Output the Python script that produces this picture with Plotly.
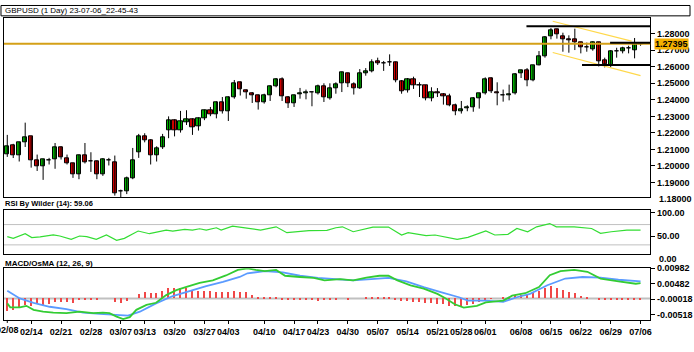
import plotly.graph_objects as go

# ---------------- data ----------------
opens = [1.2069,1.2128,1.2063,1.2143,1.2179,1.2033,1.2000,1.2036,1.2043,1.2113,
         1.2047,1.2015,1.1950,1.2063,1.2028,1.2030,1.1950,1.2037,1.2025,1.1845,
         1.1848,1.1926,1.2083,1.2182,1.2158,1.2063,1.2113,1.2218,
         1.2277,1.2218,1.2266,1.2282,1.2238,1.2286,1.2337,1.2313,1.2385,1.2328,
         1.2417,1.2504,1.2459,1.2441,1.2426,1.2387,1.2426,1.2484,1.2524,1.2417,
         1.2381,1.2436,1.2442,1.2444,1.2441,1.2482,1.2407,
         1.2471,1.2500,1.2560,1.2492,1.2472,1.2560,1.2575,1.2631,1.2623,1.2626,
         1.2625,1.2510,1.2456,1.2522,1.2487,1.2486,1.2411,1.2447,1.2432,1.2420,
         1.2365,1.2328,1.2351,1.2353,1.2411,1.2441,1.2530,1.2447,
         1.2429,1.2430,1.2437,1.2562,1.2581,1.2516,1.2611,1.2661,1.2786,1.2824,
         1.2786,1.2764,1.2766,1.2745,1.2716,1.2705,1.2746,1.2641,1.2611,1.2695,
         1.2691,1.2711,1.2701,1.2736]
highs = [1.2188,1.2134,1.2146,1.2262,1.2179,1.2069,1.2043,1.2049,1.2139,1.2119,
         1.2069,1.2019,1.2069,1.2139,1.2083,1.2033,1.2047,1.2049,1.2063,1.1857,
         1.1936,1.2109,1.2194,1.2198,1.2162,1.2119,1.2194,1.2300,
         1.2282,1.2333,1.2337,1.2288,1.2294,1.2341,1.2357,1.2391,1.2417,1.2421,
         1.2520,1.2510,1.2462,1.2447,1.2431,1.2437,1.2488,1.2532,1.2536,1.2423,
         1.2431,1.2472,1.2462,1.2447,1.2492,1.2500,1.2500,
         1.2506,1.2570,1.2564,1.2506,1.2586,1.2592,1.2645,1.2655,1.2635,1.2675,
         1.2631,1.2520,1.2532,1.2540,1.2506,1.2490,1.2476,1.2471,1.2441,1.2437,
         1.2377,1.2393,1.2367,1.2417,1.2441,1.2536,1.2536,1.2506,
         1.2462,1.2492,1.2562,1.2581,1.2592,1.2611,1.2695,1.2786,1.2834,1.2830,
         1.2806,1.2790,1.2830,1.2751,1.2746,1.2754,1.2751,1.2655,1.2701,1.2715,
         1.2721,1.2727,1.2774,1.2741]
lows = [1.2055,1.2048,1.2027,1.2115,1.1990,1.1970,1.1916,1.2009,1.1983,1.2039,
        1.2009,1.1928,1.1920,1.2015,1.1964,1.1920,1.1940,1.2003,1.1821,1.1805,
        1.1830,1.1920,1.2049,1.2143,1.2009,1.2027,1.2103,1.2168,
        1.2179,1.2202,1.2248,1.2188,1.2214,1.2277,1.2301,1.2288,1.2317,1.2272,
        1.2407,1.2426,1.2407,1.2381,1.2341,1.2377,1.2393,1.2476,1.2393,1.2351,
        1.2357,1.2407,1.2403,1.2361,1.2432,1.2387,1.2401,
        1.2437,1.2447,1.2477,1.2432,1.2466,1.2546,1.2566,1.2611,1.2575,1.2605,
        1.2506,1.2437,1.2444,1.2466,1.2417,1.2397,1.2391,1.2417,1.2371,1.2361,
        1.2307,1.2317,1.2331,1.2328,1.2347,1.2432,1.2441,1.2367,
        1.2389,1.2397,1.2432,1.2532,1.2482,1.2512,1.2608,1.2655,1.2766,1.2770,
        1.2691,1.2685,1.2701,1.2681,1.2691,1.2697,1.2602,1.2596,1.2596,1.2655,
        1.2681,1.2681,1.2651,1.2727]
closes = [1.2119,1.2063,1.2143,1.2173,1.2033,1.2000,1.2039,1.2035,1.2113,1.2055,
          1.2019,1.1948,1.2065,1.2024,1.2027,1.1950,1.2043,1.2036,1.1833,1.1845,
          1.1926,1.2033,1.2182,1.2158,1.2063,1.2107,1.2174,1.2277,
          1.2218,1.2268,1.2282,1.2234,1.2288,1.2337,1.2313,1.2387,1.2328,1.2417,
          1.2500,1.2465,1.2443,1.2426,1.2383,1.2426,1.2484,1.2524,1.2421,1.2377,
          1.2425,1.2437,1.2443,1.2443,1.2484,1.2413,1.2471,
          1.2496,1.2566,1.2500,1.2468,1.2560,1.2575,1.2629,1.2620,1.2623,1.2625,
          1.2516,1.2450,1.2526,1.2486,1.2486,1.2411,1.2443,1.2437,1.2420,1.2367,
          1.2328,1.2345,1.2352,1.2411,1.2437,1.2526,1.2450,1.2437,
          1.2429,1.2432,1.2556,1.2576,1.2516,1.2608,1.2661,1.2780,1.2820,1.2794,
          1.2764,1.2763,1.2746,1.2715,1.2715,1.2746,1.2635,1.2617,1.2695,1.2694,
          1.2711,1.2710,1.2736,1.27395]

date_ticks = [0, 4, 9, 14, 19, 23, 28, 33, 37, 43, 48, 52, 57, 62, 67, 72, 76, 80, 86, 91, 96, 101, 106]
date_labels = ["02/08", "02/14", "02/21", "02/28", "03/07", "03/13", "03/20", "03/27", "04/03",
               "04/10", "04/17", "04/23", "04/30", "05/07", "05/14", "05/21", "05/28", "06/01",
               "06/08", "06/15", "06/22", "06/29", "07/06"]

price_ticks = [1.19, 1.20, 1.21, 1.22, 1.23, 1.24, 1.25, 1.26, 1.27, 1.28]
price_bottom_label = 1.18

rsi_x = [0, 1.0, 3.0, 4.1, 5.5, 7.7, 8.8, 10.7, 12.1, 13.3, 14.9, 16.6, 18.3, 19.6, 21.9, 23.8,
         26.6, 27.7, 29.7, 31, 32.2, 33.3, 35, 35.8, 37.7, 38.8, 40.2, 42.4, 45, 46.8, 50.5, 53.5,
         55, 56.1, 57.9, 61.2, 63.8, 66, 67.1, 70.1, 71.6, 75.3, 77.1, 80.1, 81.6, 83.8, 85.3,
         87.1, 88.6, 90.8, 91.9, 94.9, 97.8, 99.3, 101.1, 103.7, 106]
rsi_v = [46.2, 42.9, 52.0, 44.3, 45.6, 49.5, 47.5, 41.0, 47.5, 46.2, 41.0, 49.5, 39.0, 42.9, 57.3,
         52.0, 59.2, 57.3, 60.4, 59.2, 61.7, 59.2, 63.7, 59.2, 67.0, 65.0, 62.3, 59.2, 65.6, 54.0,
         57.9, 58.5, 63.7, 65.6, 55.9, 65.0, 65.0, 49.5, 54.0, 48.2, 49.5, 41.0, 44.9, 57.3, 49.5,
         50.7, 62.3, 55.9, 65.6, 72.0, 65.6, 65.6, 62.3, 52.6, 55.9, 59.2, 59.06]
rsi_levels = [70, 30]

macd_x = [0, 0.5, 2.1, 3.2, 4.4, 6.0, 7.7, 9.9, 12.1, 14.4, 16.0, 17.1, 18.3, 19.4, 20.5, 21.6,
          23.3, 24.9, 26.6, 28.3, 30.0, 32.2, 34.4, 36.6, 38.6, 40.2, 41.6, 43.1, 45.0, 46.5, 49.0,
          51.3, 53.1, 55.7, 57.9, 60.1, 62.3, 63.8, 65.3, 67.5, 69.7, 72.0, 73.4, 74.9, 76.4, 78.6,
          80.1, 83.0, 84.5, 86.7, 89.0, 90.8, 92.6, 94.9, 97.1, 99.3, 102.3, 105.2, 106]
macd_v = [-0.0016, -0.0029, -0.0029, -0.0024, -0.0037, -0.0043, -0.0046, -0.0048, -0.0043, -0.0048,
          -0.0046, -0.0048, -0.0059, -0.0067, -0.0061, -0.0037, -0.0021, -0.0014, 0.0011, 0.0027,
          0.0038, 0.0051, 0.0059, 0.0075, 0.0093, 0.0098, 0.0093, 0.0089, 0.0093, 0.0074, 0.0070,
          0.0067, 0.0059, 0.0063, 0.0059, 0.0068, 0.0074, 0.0074, 0.0059, 0.0043, 0.0032, 0.0015,
          0.0000, -0.0019, -0.0030, -0.0024, -0.0013, -0.0007, 0.0009, 0.0017, 0.0037, 0.0076,
          0.0089, 0.0093, 0.0087, 0.0065, 0.0056, 0.0048, 0.0050]
signal_x = [0, 2.1, 4.4, 7.1, 9.9, 12.7, 15.5, 18.3, 20.2, 22.2, 24.9, 27.7, 30.5, 33.3, 36.1, 38.9,
            40.2, 43.1, 46.1, 49.0, 52.0, 55.0, 57.9, 60.9, 63.8, 66.8, 69.7, 72.7, 75.6, 77.1, 80.1,
            83.0, 85.3, 87.5, 90.4, 93.4, 96.3, 99.3, 102.3, 106]
signal_v = [0.0025, 0.0000, -0.0014, -0.0027, -0.0035, -0.0046, -0.0050, -0.0053, -0.0056, -0.0043,
            -0.0016, 0.0008, 0.0025, 0.0040, 0.0054, 0.0070, 0.0082, 0.0089, 0.0085, 0.0074, 0.0067,
            0.0063, 0.0059, 0.0063, 0.0067, 0.0056, 0.0037, 0.0020, 0.0004, -0.0007, -0.0007,
            -0.0011, 0.0004, 0.0015, 0.0043, 0.0065, 0.0070, 0.0068, 0.0061, 0.0056]
osma = [-0.0043, -0.0037, -0.0027, -0.0021, -0.0024, -0.0018, -0.0024, -0.0018, -0.0013, -0.0012,
        -0.0011, -0.0016, -0.0007, -0.0007, -0.0007, -0.0007, 0.0000, 0.0000, -0.0011, -0.0016,
        -0.0008, 0.0000, 0.0013, 0.0022, 0.0018, 0.0018, 0.0025, 0.0032, 0.0032, 0.0032,
        0.0032, 0.0025, 0.0025, 0.0025, 0.0025, 0.0022, 0.0022, 0.0022, 0.0025, 0.0022,
        0.0019, 0.0011, 0.0005, 0.0003, 0.0003, 0.0001, -0.0003, -0.0006, -0.0007, -0.0007,
        -0.0006, -0.0007, -0.0008, -0.0007, -0.0005, -0.0003, 0.0000, -0.0003, 0.0000, 0.0000,
        0.0002, 0.0003, 0.0003, 0.0002, 0.0001, -0.0004, -0.0008, -0.0010, -0.0011, -0.0013,
        -0.0015, -0.0016, -0.0018, -0.0020, -0.0024, -0.0026, -0.0027, -0.0022, -0.0018, -0.0012,
        -0.0006, -0.0002, 0.0000, 0.0001, 0.0005, 0.0010, 0.0012, 0.0015, 0.0018, 0.0025,
        0.0033, 0.0039, 0.0035, 0.0028, 0.0022, 0.0016, 0.0008, 0.0003, 0.0000, -0.0003,
        -0.0006, -0.0006, -0.0005, -0.0004, -0.0004, -0.0004, -0.0003]
macd_ticks = [0.00982, 0.00482, -0.00018, -0.00518]

last_price = 1.27395
# drawn objects on the price chart: (x0, y0, x1, y1)
black_lines = [(86.9, 1.2845, 107.6, 1.2845), (100.9, 1.2745, 107.6, 1.2745), (96.2, 1.2611, 107.6, 1.2611)]
yellow_lines = [(91.3, 1.2875, 104.5, 1.2755), (91.3, 1.2686, 106.0, 1.2546)]

# ---------------- figure ----------------
W, H = 694, 352
XD = [4 / W, 652 / W]
def ydom(top, bot):
    return [1 - bot / H, 1 - top / H]
def py(px):
    return 1 - px / H

XR = [-0.55, 107.6]
fig = go.Figure()

n = len(closes)
idx = list(range(n))

# wicks
wx, wy = [], []
for i in idx:
    wx += [i, i, None]
    wy += [lows[i], highs[i], None]
fig.add_trace(go.Scatter(x=wx, y=wy, mode="lines", line=dict(color="#000000", width=1),
                         hoverinfo="skip", xaxis="x", yaxis="y"))
# bodies
base = [min(o, c) for o, c in zip(opens, closes)]
hgt = [max(abs(c - o), 0.00003) for o, c in zip(opens, closes)]
cols = ["#00B000" if c > o + 0.00002 else ("#D00000" if c < o - 0.00002 else "#000000")
        for o, c in zip(opens, closes)]
fig.add_trace(go.Bar(x=idx, y=hgt, base=base, width=0.7,
                     marker=dict(color=cols, line=dict(color="#000000", width=1)),
                     xaxis="x", yaxis="y"))

# RSI
fig.add_trace(go.Scatter(x=rsi_x, y=rsi_v, mode="lines", line=dict(color="#33DD33", width=1.2),
                         xaxis="x2", yaxis="y2"))
# MACD / OsMA
fig.add_trace(go.Bar(x=idx, y=osma, width=0.22, marker=dict(color="#F04848", line=dict(width=0)),
                     xaxis="x3", yaxis="y3"))
fig.add_trace(go.Scatter(x=signal_x, y=signal_v, mode="lines", line=dict(color="#5B9BFF", width=1.8),
                         xaxis="x3", yaxis="y3"))
fig.add_trace(go.Scatter(x=macd_x, y=macd_v, mode="lines", line=dict(color="#33CC33", width=1.8),
                         xaxis="x3", yaxis="y3"))

FAM = "Liberation Sans"
font_ax = dict(family=FAM, size=9, color="#000000", weight="bold")
ax_common = dict(showgrid=False, zeroline=False, showline=True, linecolor="#000000", linewidth=1,
                 mirror=True, range=XR)
ycommon = dict(side="right", ticks="outside", ticklen=4, tickcolor="#000", tickfont=font_ax,
               showgrid=False, zeroline=False, showline=True, linecolor="#000", mirror=True,
               tickmode="array")
fig.update_layout(
    width=W, height=H, margin=dict(l=0, r=0, t=0, b=0),
    paper_bgcolor="#FFFFFF", plot_bgcolor="#FFFFFF", showlegend=False, bargap=0,
    xaxis=dict(domain=XD, anchor="y", showticklabels=False, ticks="", **ax_common),
    xaxis2=dict(domain=XD, anchor="y2", showticklabels=False, ticks="", **ax_common),
    xaxis3=dict(domain=XD, anchor="y3", tickmode="array", tickvals=date_ticks[1:], ticktext=date_labels[1:],
                tickangle=0, ticks="outside", ticklen=3, tickcolor="#000",
                tickfont=dict(family=FAM, size=9, color="#000", weight="bold"), **ax_common),
    yaxis=dict(domain=ydom(13.5, 195), anchor="x", range=[1.1811, 1.2893],
               tickvals=price_ticks, ticktext=["%.5f" % v for v in price_ticks], **ycommon),
    yaxis2=dict(domain=ydom(207.7, 252.7), anchor="x2", range=[11.8, 99.2],
                tickvals=[92.8, 47.2], ticktext=["100.00", "50.00"], **ycommon),
    yaxis3=dict(domain=ydom(267, 319.5), anchor="x3", range=[-0.0070, 0.00986],
                tickvals=macd_ticks, ticktext=["%.5f" % v for v in macd_ticks], **ycommon),
)

shapes = []
for lv in rsi_levels:
    shapes.append(dict(type="line", xref="x2 domain", yref="y2", x0=0, x1=1, y0=lv, y1=lv,
                       line=dict(color="#C0C0C0", width=1), layer="below"))
shapes.append(dict(type="line", xref="x3 domain", yref="y3", x0=0, x1=1, y0=0, y1=0,
                   line=dict(color="#C0C0C0", width=2), layer="below"))
shapes.append(dict(type="line", xref="x domain", yref="y", x0=0, x1=1, y0=last_price, y1=last_price,
                   line=dict(color="#D4A017", width=2)))
for (x0, y0, x1, y1) in yellow_lines:
    shapes.append(dict(type="line", xref="x", yref="y", x0=x0, x1=x1, y0=y0, y1=y1,
                       line=dict(color="#FFD84A", width=1.2)))
for (x0, y0, x1, y1) in black_lines:
    shapes.append(dict(type="line", xref="x", yref="y", x0=x0, x1=x1, y0=y0, y1=y1,
                       line=dict(color="#000000", width=2)))
shapes.append(dict(type="rect", xref="paper", yref="paper", x0=1 / W, x1=692 / W, y0=py(11), y1=py(0.5),
                   line=dict(color="#000000", width=1), fillcolor="#FFFFFF"))
# first date tick (its label is cut by the left edge of the picture)
shapes.append(dict(type="line", xref="x3", yref="paper", x0=date_ticks[0], x1=date_ticks[0],
                   y0=py(319.5), y1=py(322.5), line=dict(color="#000", width=1)))
fig.update_layout(shapes=shapes)

ann = [
    dict(xref="paper", yref="paper", x=3 / W, y=py(5.5), xanchor="left", yanchor="middle",
         text="GBPUSD (1 Day) 23-07-06_22-45-43", showarrow=False,
         font=dict(family=FAM, size=8, color="#000")),
    dict(xref="paper", yref="paper", x=3 / W, y=py(201), xanchor="left", yanchor="middle",
         text="RSI By Wilder (14): 59.06", showarrow=False,
         font=dict(family=FAM, size=7.5, color="#000", weight="bold")),
    dict(xref="paper", yref="paper", x=3 / W, y=py(262), xanchor="left", yanchor="middle",
         text="MACD/OsMA (12, 26, 9)", showarrow=False,
         font=dict(family=FAM, size=8, color="#000", weight="bold")),
    dict(xref="paper", yref="y", x=656 / W, y=last_price, xanchor="left", yanchor="middle",
         text="%.5f" % last_price, showarrow=False, bgcolor="#F5B000", borderpad=0,
         font=font_ax),
    dict(xref="paper", yref="paper", x=659 / W, y=py(196.7), xanchor="left", yanchor="middle",
         text="%.5f" % price_bottom_label, showarrow=False, font=font_ax),
    dict(xref="paper", yref="paper", x=659 / W, y=py(258), xanchor="left", yanchor="middle",
         text="0.00", showarrow=False, font=font_ax),
    dict(xref="x3", yref="paper", x=date_ticks[0], y=py(330), xanchor="center", yanchor="middle",
         text=date_labels[0], showarrow=False,
         font=dict(family=FAM, size=9, color="#000", weight="bold")),
]
fig.update_layout(annotations=ann)

fig.write_html("out.html")
